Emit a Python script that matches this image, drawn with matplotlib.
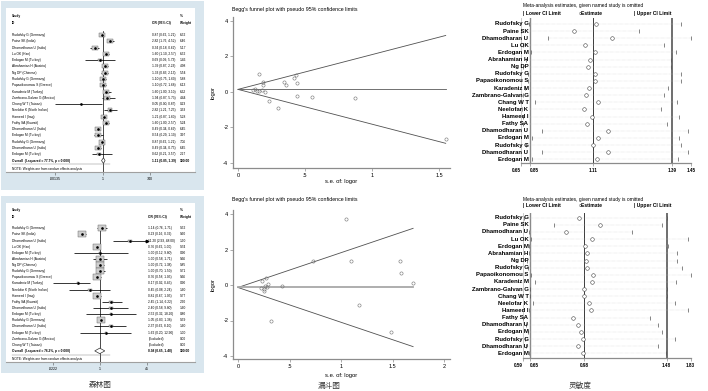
import numpy as np
import matplotlib
matplotlib.use("Agg")
import matplotlib.pyplot as plt
from matplotlib.patches import Rectangle
from matplotlib.path import Path
import matplotlib.transforms as mtransforms

plt.rcParams['font.family'] = ['Liberation Sans', 'Noto Sans CJK SC', 'DejaVu Sans']

# ------------------------------------------------------------------ data
top_names = ["Rudofsky G (Germany)", "Paine SK (India)", "Dhamodharan U (India)", "Lu OK (Han)",
             "Erdogan M (Turkey)", "Abrahamian H (Austria)", "Ng DP (Chinese)", "Rudofsky G (Germany)",
             "Papaoikonomou S (Greece)", "Karadeniz M (Turkey)", "Zambrano-Galvan G (Mexico)",
             "Chang W T (Taiwan)", "Neelofar K (North Indian)", "Hameed I (Iraq)", "Fathy SA (Kuwait)",
             "Dhamodharan U (India)", "Erdogan M (Turkey)", "Rudofsky G (Germany)",
             "Dhamodharan U (India)", "Erdogan M (Turkey)"]
top_or = [0.87, 2.82, 0.34, 1.60, 0.69, 1.39, 1.33, 1.10, 1.10, 1.60, 1.94, 0.046, 2.82, 1.21, 1.60,
          0.49, 0.54, 0.87, 0.49, 0.62]
top_lo = [0.62, 1.76, 0.18, 1.10, 0.09, 0.87, 0.83, 0.75, 0.72, 1.00, 0.87, 0.00135, 1.21, 0.87, 1.00,
          0.34, 0.29, 0.62, 0.34, 0.21]
top_hi = [1.21, 4.52, 0.62, 2.57, 5.73, 2.23, 2.13, 1.60, 1.68, 3.10, 5.73, 0.87, 7.25, 1.60, 2.57,
          0.69, 1.10, 1.21, 0.75, 3.57]
top_wt = [6.52, 6.46, 5.17, 6.52, 1.46, 4.98, 5.54, 5.88, 6.13, 6.62, 4.44, 0.23, 3.33, 5.28, 5.24,
          6.45, 3.97, 7.06, 6.45, 2.27]
top_overall = (1.11, 0.85, 1.39)
top_overall_label = "Overall  (I-squared = 77.7%, p = 0.000)"
top_forest_ticks = [0.00135, 1, 740]
top_forest_ticklabels = [".00135", "1", "740"]

bot_names = ["Rudofsky G (Germany)", "Paine SK (India)", "Dhamodharan U (India)", "Lu OK (Han)",
             "Erdogan M (Turkey)", "Abrahamian H (Austria)", "Ng DP (Chinese)", "Rudofsky G (Germany)",
             "Papaoikonomou S (Greece)", "Karadeniz M (Turkey)", "Neelofar K (North Indian)",
             "Hameed I (Iraq)", "Fathy SA (Kuwait)", "Dhamodharan U (India)", "Erdogan M (Turkey)",
             "Rudofsky G (Germany)", "Dhamodharan U (India)", "Erdogan M (Turkey)",
             "Zambrano-Galvan G (Mexico)", "Chang W T (Taiwan)"]
nan = float('nan')
bot_or = [1.14, 0.23, 11.2, 0.76, 1.00, 1.00, 1.00, 1.00, 0.76, 0.17, 0.45, 0.81, 2.45, 2.40, 2.52,
          1.05, 2.37, 1.62, nan, nan]
bot_lo = [0.76, 0.16, 2.93, 0.62, 0.12, 0.58, 0.72, 0.70, 0.58, 0.0222, 0.078, 0.67, 1.14, 0.58, 0.32,
          0.83, 0.62, 0.20, nan, nan]
bot_hi = [1.71, 0.32, 48.0, 1.00, 9.80, 1.71, 1.38, 1.50, 1.05, 0.45, 2.24, 1.05, 6.22, 9.80, 18.2,
          1.38, 8.10, 12.9, nan, nan]
bot_wt = [9.52, 9.60, 1.90, 9.74, 0.90, 9.66, 9.85, 9.71, 9.66, 0.90, 1.60, 9.77, 2.60, 1.60, 0.80,
          9.59, 1.60, 1.00, 0.00, 0.00]
bot_overall = (0.98, 0.65, 1.48)
bot_overall_label = "Overall  (I-squared = 76.2%, p = 0.000)"
bot_forest_ticks = [0.0222, 1, 45]
bot_forest_ticklabels = [".0222", "1", "45"]

top_se = [0.16, 0.19, 0.19, 0.13, 0.16, 0.20, 0.23, 0.30, 0.34, 0.36, 0.42, 0.43, 0.44, 0.44, 0.55,
          0.87, 1.55, 0.11, 0.18, 0.14]
top_lor = [0.98, 0.55, 0.35, 0.17, 0.05, -0.02, -0.52, -0.90, 0.55, 0.35, 0.75, 0.95, 0.51, -0.23,
           -0.29, -0.37, -2.68, 0.10, 0.12, 0.06]
top_pooled = 0.13
bot_se = [1.05, 0.73, 1.10, 1.57, 1.58, 1.70, 0.43, 1.17, 0.32, 1.49, 0.23, 0.26, 0.29, 0.25, 0.25,
          0.27, 0.22, 0.28]
bot_lor = [3.70, 1.35, 1.35, 1.35, 0.69, 0.11, -0.08, -1.13, -2.01, -2.67, 0.23, -0.04, 0.05, -0.24,
           -0.36, 0.40, -0.15, -0.12]
bot_pooled = -0.14
funnel_yticks = [-4, -2, 0, 2, 4]
top_funnel_xticks = [0, 0.5, 1, 1.5]
top_funnel_xlabels = ["0", ".5", "1", "1.5"]
bot_funnel_xticks = [0, 0.5, 1, 1.5, 2]
bot_funnel_xlabels = ["0", ".5", "1", "1.5", "2"]

sens_names = ["Rudofsky G", "Paine SK", "Dhamodharan U", "Lu OK", "Erdogan M", "Abrahamian H",
              "Ng DP", "Rudofsky G", "Papaoikonomou S", "Karadeniz M", "Zambrano-Galvan G",
              "Chang W T", "Neelofar K", "Hameed I", "Fathy SA", "Dhamodharan U", "Erdogan M",
              "Rudofsky G", "Dhamodharan U", "Erdogan M"]
sens_top_lo = [0.827, 0.650, 0.925, 0.696, 0.854, 0.750, 0.681, 0.811, 0.811, 0.735, 0.681, 0.870,
               0.660, 0.696, 0.696, 0.900, 0.857, 0.750, 0.900, 0.857]
sens_top_est = [1.120, 1.032, 1.176, 1.076, 1.116, 1.096, 1.087, 1.116, 1.116, 1.092, 1.080, 1.128,
                1.072, 1.103, 1.085, 1.162, 1.128, 1.110, 1.162, 1.124]
sens_top_hi = [1.419, 1.273, 1.450, 1.364, 1.404, 1.388, 1.388, 1.419, 1.418, 1.378, 1.364, 1.406,
               1.351, 1.414, 1.375, 1.443, 1.414, 1.418, 1.443, 1.411]
sens_bot_lo = [0.604, 0.797, 0.640, 0.655, 0.645, 0.645, 0.628, 0.632, 0.656, 0.681, 0.650, 0.650,
               0.666, 0.645, 0.590, 0.617, 0.632, 0.610, 0.615, 0.640]
sens_bot_est = [0.951, 1.077, 0.870, 1.028, 0.986, 0.996, 0.992, 1.000, 1.036, 1.026, 0.980, 0.980,
                1.012, 1.022, 0.915, 0.945, 0.962, 0.976, 0.945, 0.972]
sens_bot_hi = [1.480, 1.454, 1.268, 1.796, 1.495, 1.626, 1.636, 1.699, 1.830, 1.616, 1.480, 1.480,
               1.602, 1.796, 1.379, 1.429, 1.454, 1.602, 1.429, 1.474]

panel_captions = ["森林图", "漏斗图", "灵敏度"]

# ------------------------------------------------------------------ layout helpers
W, H = 708, 391
fig = plt.figure(figsize=(W / 100, H / 100), dpi=100)
fig.patch.set_facecolor('white')
BLUE = '#d9e6ee'


def ax_px(x0, y0, x1, y1):
    return fig.add_axes([x0 / W, 1 - y1 / H, (x1 - x0) / W, (y1 - y0) / H])


def ftext(x, y, s, **kw):
    fig.text(x / W, 1 - y / H, s, **kw)


def rect_px(x0, y0, x1, y1, color):
    fig.add_artist(Rectangle((x0 / W, 1 - y1 / H), (x1 - x0) / W, (y1 - y0) / H,
                             transform=fig.transFigure, facecolor=color, edgecolor='none', zorder=0))


RECT = Path([(-1, -0.72), (1, -0.72), (1, 0.72), (-1, 0.72), (-1, -0.72)],
            [Path.MOVETO, Path.LINETO, Path.LINETO, Path.LINETO, Path.CLOSEPOLY])


# ------------------------------------------------------------------ forest plot
def forest(box, inner, row1_y, row_step, x_one, x_max, names, orv, lo, hi, wt, overall,
           ov_label, ticks, ticklabels, or_col_x, box_ms):
    rect_px(*box, BLUE)
    x0, y0, x1, y1 = inner
    ax = ax_px(x0, y0, x1, y1)
    ax.set_facecolor('white')
    n = len(names)
    ppl = (x_max - x_one) / np.log(ticks[-1])
    ax.set_xscale('log')
    ax.set_xlim(np.exp((x0 - x_one) / ppl), np.exp((x1 - x_one) / ppl))
    ytop = 1 - (row1_y - y0) / row_step
    ybot = 1 + (y1 - row1_y) / row_step
    ax.set_ylim(ybot, ytop)
    for s in ['top', 'left', 'right']:
        ax.spines[s].set_visible(False)
    ax.spines['bottom'].set_color('#a0a0a0')
    ax.spines['bottom'].set_linewidth(0.8)
    ax.set_yticks([])
    ax.set_xticks(ticks)
    ax.set_xticklabels(ticklabels, fontsize=2.6)
    ax.xaxis.set_minor_locator(matplotlib.ticker.NullLocator())
    ax.tick_params(axis='x', length=2, width=0.4, color='#555555', pad=1.5)

    lo_lim, hi_lim = ticks[0], ticks[-1]
    wmax = np.nanmax(wt)
    for i in range(n):
        r = i + 1
        if np.isnan(orv[i]):
            continue
        a = max(lo[i], lo_lim)
        b = min(hi[i], hi_lim)
        ax.plot([a, b], [r, r], color='black', lw=0.55, solid_capstyle='butt', zorder=3)
        if hi[i] > hi_lim:
            ax.plot([hi_lim], [r], marker='>', ms=1.8, color='black', zorder=3)
        if wt[i] > 0:
            ax.plot([orv[i]], [r], marker=RECT, ms=box_ms * np.sqrt(wt[i] / wmax),
                    mfc='#cfcfcf', mec='#5a5a5a', mew=0.3, zorder=4)
        ax.plot([orv[i]], [r], marker='o', ms=0.9, color='black', zorder=5)
    est, olo, ohi = overall
    ro = n + 1
    ax.fill([olo, est, ohi, est, olo], [ro, ro - 0.45, ro, ro + 0.45, ro],
            facecolor='white', edgecolor='#333333', lw=0.5, zorder=5)
    ax.plot([1, 1], [0.4, ybot], color='black', lw=0.5, zorder=2)

    tr = mtransforms.blended_transform_factory(ax.transAxes, ax.transData)
    fx = lambda X: (X - x0) / (x1 - x0)
    fs = 2.3
    ax.text(fx(11.7), -2.03, "Study", transform=tr, fontsize=fs, fontweight='bold', va='center')
    ax.text(fx(11.7), -0.87, "ID", transform=tr, fontsize=fs, fontweight='bold', va='center')
    ax.text(fx(or_col_x), -0.87, "OR (95% CI)", transform=tr, fontsize=fs, fontweight='bold', va='center')
    ax.text(fx(180), -2.03, "%", transform=tr, fontsize=fs, fontweight='bold', va='center')
    ax.text(fx(180), -0.87, "Weight", transform=tr, fontsize=fs, fontweight='bold', va='center')
    for i in range(n):
        r = i + 1
        ax.text(fx(11.7), r, names[i], transform=tr, fontsize=fs, va='center')
        if np.isnan(orv[i]):
            s = "(Excluded)"
        else:
            s = f"{orv[i]:.2f} ({lo[i]:.2f}, {hi[i]:.2f})"
        ax.text(fx(or_col_x), r, s, transform=tr, fontsize=fs, va='center')
        ax.text(fx(180), r, f"{wt[i]:.2f}", transform=tr, fontsize=fs, va='center')
    ax.text(fx(11.7), ro, ov_label, transform=tr, fontsize=fs, va='center', fontweight='bold')
    ax.text(fx(or_col_x), ro, f"{est:.2f} ({olo:.2f}, {ohi:.2f})", transform=tr, fontsize=fs,
            va='center', fontweight='bold')
    ax.text(fx(180), ro, "100.00", transform=tr, fontsize=fs, va='center', fontweight='bold')
    ax.plot([0.03, 0.55], [ro + 0.62, ro + 0.62], transform=tr, color='#777777', lw=0.3)
    ax.text(fx(11.7), ro + 1.35, "NOTE: Weights are from random effects analysis", transform=tr,
            fontsize=fs, va='center')
    return ax


forest((1, 1, 204, 190), (6, 8, 195, 172), 35.0, 6.28, 102.7, 150.0,
       top_names, top_or, top_lo, top_hi, top_wt, top_overall, top_overall_label,
       top_forest_ticks, top_forest_ticklabels, 151.7, 5.0)
forest((1, 196, 204, 373), (6, 203, 195, 361.7), 228.3, 6.13, 100.0, 146.7,
       bot_names, bot_or, bot_lo, bot_hi, bot_wt, bot_overall, bot_overall_label,
       bot_forest_ticks, bot_forest_ticklabels, 148.3, 5.4)


# ------------------------------------------------------------------ funnel plots
def funnel(axbox, x_zero, x_per, y_zero, y_per, se, lor, pooled, xticks, xlabels, title_y,
           ylab_x, xlab_y, hline_style):
    x0, y0, x1, y1 = axbox
    ax = ax_px(x0, y0, x1, y1)
    ax.set_facecolor('none')
    ax.set_xlim((x0 - x_zero) / x_per, (x1 - x_zero) / x_per)
    ax.set_ylim((y_zero - y1) / y_per, (y_zero - y0) / y_per)
    for s in ['top', 'right']:
        ax.spines[s].set_visible(False)
    for s in ['left', 'bottom']:
        ax.spines[s].set_color('#8c8c8c')
        ax.spines[s].set_linewidth(0.9)
    ax.set_yticks(funnel_yticks)
    ax.set_yticklabels([str(v) for v in funnel_yticks], fontsize=4)
    ax.set_xticks(xticks)
    ax.set_xticklabels(xlabels, fontsize=4)
    ax.tick_params(length=2, width=0.5, color='#8c8c8c', pad=1.5)
    smax = max(se)
    s = np.array([0.0, smax])
    ax.plot(s, pooled + 1.96 * s, color='#505050', lw=0.6)
    ax.plot(s, pooled - 1.96 * s, color='#505050', lw=0.6)
    ax.plot(s, [pooled, pooled], **hline_style)
    ax.plot(se, lor, linestyle='none', marker='o', ms=2.3, mfc='none', mec='#707070', mew=0.4)
    ftext(232, title_y, "Begg's funnel plot with pseudo 95% confidence limits", fontsize=3.8,
          ha='left', va='center')
    ftext(ylab_x, (y0 + y1) / 2, "logor", fontsize=4.2, rotation=90, ha='center', va='center')
    ftext((x0 + x1) / 2, xlab_y, "s.e. of: logor", fontsize=4.2, ha='center', va='center')
    return ax


funnel((233, 17, 450, 168), 238, 134, 91.7, 17.75, top_se, top_lor, top_pooled,
       top_funnel_xticks, top_funnel_xlabels, 9, 213.5, 182,
       dict(color='#5a5a5a', lw=0.6))
funnel((233, 210, 450, 359), 238, 103, 285, 17.75, bot_se, bot_lor, bot_pooled,
       bot_funnel_xticks, bot_funnel_xlabels, 200, 213.5, 375,
       dict(color='#a8a8a8', lw=1.3))


# ------------------------------------------------------------------ sensitivity plots
def sens(axbox, anchor_px, ylim, names, lower, est, upper, overall, title_y, leg_y, label_x):
    x0, y0, x1, y1 = axbox
    ax = ax_px(x0, y0, x1, y1)
    ax.set_facecolor('none')
    oest, olo, ohi = overall
    ticks = [min(lower), olo, oest, ohi, max(upper)]
    pos = list(anchor_px)
    s0 = (pos[1] - pos[0]) / (ticks[1] - ticks[0])
    s1 = (pos[-1] - pos[-2]) / (ticks[-1] - ticks[-2])
    tv = [ticks[0] - 100] + ticks + [ticks[-1] + 100]
    pv = [pos[0] - 100 * s0] + pos + [pos[-1] + 100 * s1]
    fwd = lambda x: np.interp(x, tv, pv)
    inv = lambda p: np.interp(p, pv, tv)
    ax.set_xscale('function', functions=(fwd, inv))
    ax.set_xlim(ticks[0], ticks[-1])
    ax.set_ylim(*ylim)
    for s in ['top', 'right']:
        ax.spines[s].set_visible(False)
    ax.spines['left'].set_color('#c4c4c4')
    ax.spines['left'].set_linewidth(0.6)
    ax.spines['bottom'].set_color('#8c8c8c')
    ax.spines['bottom'].set_linewidth(0.9)
    ax.set_yticks([])
    ax.set_xticks(ticks)
    labs = ax.set_xticklabels([f"{v:.2f}" for v in ticks], fontsize=3.3, fontweight='bold')
    labs[0].set_horizontalalignment('right')
    labs[1].set_horizontalalignment('left')
    ax.xaxis.set_minor_locator(matplotlib.ticker.NullLocator())
    ax.tick_params(axis='x', length=2, width=0.5, color='#8c8c8c', pad=1.2)
    ax.axvline(olo, color='#8a8a8a', lw=1.0, zorder=1)
    ax.axvline(oest, color='#3a3a3a', lw=0.7, zorder=1)
    ax.axvline(ohi, color='#6e6e6e', lw=1.4, zorder=1)
    rows = np.arange(1, len(names) + 1)
    for i, r in enumerate(rows):
        ax.plot([lower[i], upper[i]], [r, r], color='#c8c8c8', lw=0.35, linestyle=(0, (1, 1.5)), zorder=1)
    ax.plot(lower, rows, linestyle='none', marker='|', ms=3.2, mew=0.5, color='#555555', zorder=3)
    ax.plot(upper, rows, linestyle='none', marker='|', ms=3.2, mew=0.5, color='#555555', zorder=3)
    ax.plot(est, rows, linestyle='none', marker='o', ms=2.6, mfc='white', mec='#444444', mew=0.4, zorder=3)
    tr = mtransforms.blended_transform_factory(ax.transAxes, ax.transData)
    lx = (label_x - x0) / (x1 - x0)
    for i, r in enumerate(rows):
        ax.text(lx, r, names[i], transform=tr, fontsize=4.3, fontweight='bold', ha='right',
                va='center', clip_on=False)
    ftext(522.7, title_y, "Meta-analysis estimates, given named study is omitted", fontsize=3.5,
          ha='left', va='center')
    ftext(522.7, leg_y, "| Lower CI Limit", fontsize=3.6, fontweight='bold', ha='left', va='center')
    ftext(579, leg_y, "○Estimate", fontsize=3.6, fontweight='bold', ha='left', va='center')
    ftext(634, leg_y, "| Upper CI Limit", fontsize=3.6, fontweight='bold', ha='left', va='center')
    return ax


sens((521.3, 18.3, 690.7, 163.3), [521.3, 530, 593.3, 671.7, 690.7], (20.56, 0.2),
     sens_names, sens_top_lo, sens_top_est, sens_top_hi, top_overall, 5, 13.3, 528.5)
sens((522.7, 213.3, 690.7, 358.3), [522.7, 530, 584, 666.7, 690.7], (20.7, 0.38),
     sens_names, sens_bot_lo, sens_bot_est, sens_bot_hi, bot_overall, 199.5, 206, 528.5)

# ------------------------------------------------------------------ captions
for x, s in zip([100, 328.7, 580], panel_captions):
    ftext(x, 386, s, fontsize=5.5, ha='center', va='center', color='#333333')

fig.savefig("out.png", dpi=100)
